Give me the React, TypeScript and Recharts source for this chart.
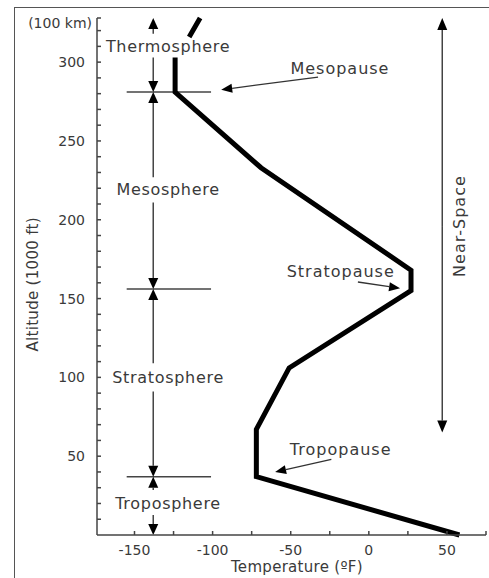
import {
  ComposedChart,
  Line,
  XAxis,
  YAxis,
  ReferenceLine,
  ReferenceDot,
} from "recharts";

// temperature profile (deg F) against altitude (1000 ft)
const profileTemp = [58, -72, -72, -51, 27, 27, -69, -124, -124, null, -115, -108];
const profileAlt = [0, 37, 67, 106, 155, 168, 233, 281, 303, null, 316, 328];

const xTicks = [-150, -125, -100, -75, -50, -25, 0, 25, 50, 75];
const yTicks = [
  10, 20, 30, 40, 50, 60, 70, 80, 90, 100, 110, 120, 130, 140, 150, 160, 170,
  180, 190, 200, 210, 220, 230, 240, 250, 260, 270, 280, 290, 300, 310, 320, 328,
];
const topTick = 328;
const topTickLabel = "(100 km)";

// layers down the left side
const layerNames = ["Troposphere", "Stratosphere", "Mesosphere", "Thermosphere"];
const layerLabelAlt = [20, 100, 219, 310];
const layerColumnTemp = -138;
const layerLabelTemp = -128.5;
const arrowTailAlt = [28.5, 12.7, 109, 91, 227, 211, 318, 303];
const arrowTipAlt = [37, 0, 156, 37, 281, 156, 328, 281];

// the "pauses"
const pauseNames = ["Tropopause", "Stratopause", "Mesopause"];
const pauseAlt = [37, 156, 281];
const pauseLineTemp = [-155, -101];
const pauseLabelTemp = [-18, -18, -18.5];
const pauseLabelAlt = [54, 167, 296];
const pauseArrowFrom = [
  [-24, 48],
  [-7, 160.5],
  [-32.5, 290.5],
];
const pauseArrowTo = [
  [-60, 40],
  [20, 156.5],
  [-94.5, 282.5],
];

// near space bracket
const nearSpaceTemp = 47;
const nearSpaceRange = [65, 328];
const nearSpaceLabel = { temp: 58, alt: 196 };

const font = "DejaVu Sans";
const ink = "#3a3a3a";
const axisInk = "#444";
const TICK_LEN = 4;
const X_MARGIN = 12;
const Y_MARGIN = 12;

const profile = profileTemp.map((t, i) => ({ temp: t, alt: profileAlt[i] }));

const arrowShape =
  (head: number, half: number, color: string, w: number) => (p: any) => {
    const { x1, y1, x2, y2 } = p;
    const dx = x2 - x1;
    const dy = y2 - y1;
    const len = Math.hypot(dx, dy) || 1;
    const ux = dx / len;
    const uy = dy / len;
    const bx = x2 - ux * head;
    const by = y2 - uy * head;
    const px = -uy * half;
    const py = ux * half;
    return (
      <g>
        <line x1={x1} y1={y1} x2={bx} y2={by} stroke={color} strokeWidth={w} />
        <polygon
          points={`${x2},${y2} ${bx + px},${by + py} ${bx - px},${by - py}`}
          fill="#000"
        />
      </g>
    );
  };

const textShape =
  (text: string, size: number, angle = 0, spacing = 0) =>
  (p: any) => (
    <text
      x={p.cx}
      y={p.cy}
      textAnchor="middle"
      dominantBaseline="central"
      fontFamily={font}
      fontSize={size}
      letterSpacing={spacing}
      fill={ink}
      transform={angle ? `rotate(${angle}, ${p.cx}, ${p.cy})` : undefined}
    >
      {text}
    </text>
  );

// ticks point into the plot, so draw them here
const YTick = (p: any) => {
  const v = p.payload.value;
  const isTop = v === topTick;
  const label = isTop ? topTickLabel : v % 50 === 0 ? String(v) : "";
  const axisX = p.x + Y_MARGIN;
  return (
    <g>
      <line x1={axisX} x2={axisX + TICK_LEN} y1={p.y} y2={p.y} stroke={axisInk} strokeWidth={1.5} />
      <text
        x={p.x + (isTop ? 7 : 0)}
        y={p.y + (isTop ? 5 : 0)}
        textAnchor="end"
        dominantBaseline="central"
        fontFamily={font}
        fontSize={14}
        fill={ink}
      >
        {label}
      </text>
    </g>
  );
};

const XTick = (p: any) => {
  const v = p.payload.value;
  const axisY = p.y - X_MARGIN;
  return (
    <g>
      <line x1={p.x} x2={p.x} y1={axisY} y2={axisY - TICK_LEN} stroke={axisInk} strokeWidth={1.5} />
      <text
        x={p.x}
        y={axisY + 15}
        textAnchor="middle"
        dominantBaseline="central"
        fontFamily={font}
        fontSize={14}
        fill={ink}
      >
        {v % 50 === 0 ? String(v) : ""}
      </text>
    </g>
  );
};

const App = () => {
  return (
    <div style={{ position: "absolute", left: 0, top: 0, width: 489, height: 578, background: "#fff" }}>
      <div
        style={{
          position: "absolute",
          left: 14,
          top: 7,
          right: 0,
          bottom: 0,
          borderTop: "1.5px solid #555",
          borderLeft: "1.5px solid #555",
        }}
      />
      <div style={{ position: "absolute", left: 0, top: 0 }}>
        <ComposedChart
          width={489}
          height={578}
          data={profile}
          margin={{ top: 18, right: 3, bottom: 3, left: 37 }}
        >
          <XAxis
            dataKey="temp"
            type="number"
            domain={[-174, 75]}
            ticks={xTicks}
            interval={0}
            tickLine={false}
            tickSize={0}
            tickMargin={X_MARGIN}
            height={40}
            stroke={axisInk}
            strokeWidth={1.5}
            tick={<XTick />}
          />
          <YAxis
            type="number"
            domain={[0, 328]}
            ticks={yTicks}
            interval={0}
            tickLine={false}
            tickSize={0}
            tickMargin={Y_MARGIN}
            width={60}
            stroke={axisInk}
            strokeWidth={1.5}
            tick={<YTick />}
          />

          {pauseAlt.map((a, i) => (
            <ReferenceLine
              key={`pl${i}`}
              segment={[
                { x: pauseLineTemp[0], y: a },
                { x: pauseLineTemp[1], y: a },
              ]}
              stroke={axisInk}
              strokeWidth={1.5}
              ifOverflow="visible"
            />
          ))}

          {arrowTailAlt.map((a, i) => (
            <ReferenceLine
              key={`la${i}`}
              segment={[
                { x: layerColumnTemp, y: a },
                { x: layerColumnTemp, y: arrowTipAlt[i] },
              ]}
              ifOverflow="visible"
              shape={arrowShape(11, 5, axisInk, 1.5)}
            />
          ))}

          {layerNames.map((n, i) => (
            <ReferenceDot
              key={`ln${i}`}
              x={layerLabelTemp}
              y={layerLabelAlt[i]}
              r={0}
              ifOverflow="visible"
              shape={textShape(n, 16, 0, 0.7)}
            />
          ))}

          {pauseNames.map((n, i) => (
            <ReferenceDot
              key={`pn${i}`}
              x={pauseLabelTemp[i]}
              y={pauseLabelAlt[i]}
              r={0}
              ifOverflow="visible"
              shape={textShape(n, 16, 0, 1)}
            />
          ))}

          {pauseArrowFrom.map((f, i) => (
            <ReferenceLine
              key={`pa${i}`}
              segment={[
                { x: f[0], y: f[1] },
                { x: pauseArrowTo[i][0], y: pauseArrowTo[i][1] },
              ]}
              ifOverflow="visible"
              shape={arrowShape(11, 4.5, "#333", 1.3)}
            />
          ))}

          <ReferenceLine
            segment={[
              { x: nearSpaceTemp, y: nearSpaceLabel.alt },
              { x: nearSpaceTemp, y: nearSpaceRange[1] },
            ]}
            ifOverflow="visible"
            shape={arrowShape(12, 5, axisInk, 1.5)}
          />
          <ReferenceLine
            segment={[
              { x: nearSpaceTemp, y: nearSpaceLabel.alt },
              { x: nearSpaceTemp, y: nearSpaceRange[0] },
            ]}
            ifOverflow="visible"
            shape={arrowShape(12, 5, axisInk, 1.5)}
          />
          <ReferenceDot
            x={nearSpaceLabel.temp}
            y={nearSpaceLabel.alt}
            r={0}
            ifOverflow="visible"
            shape={textShape("Near-Space", 16, -90, 1)}
          />

          <ReferenceDot
            x={-215}
            y={159}
            r={0}
            ifOverflow="visible"
            shape={textShape("Altitude (1000 ft)", 15, -90, 0.3)}
          />
          <ReferenceDot
            x={-46}
            y={-20}
            r={0}
            ifOverflow="visible"
            shape={textShape("Temperature (ºF)", 15, 0, 0.3)}
          />

          <Line
            dataKey="alt"
            stroke="#000"
            strokeWidth={5}
            strokeLinejoin="miter"
            dot={false}
            connectNulls={false}
            isAnimationActive={false}
          />
        </ComposedChart>
      </div>
    </div>
  );
};

export default App;
